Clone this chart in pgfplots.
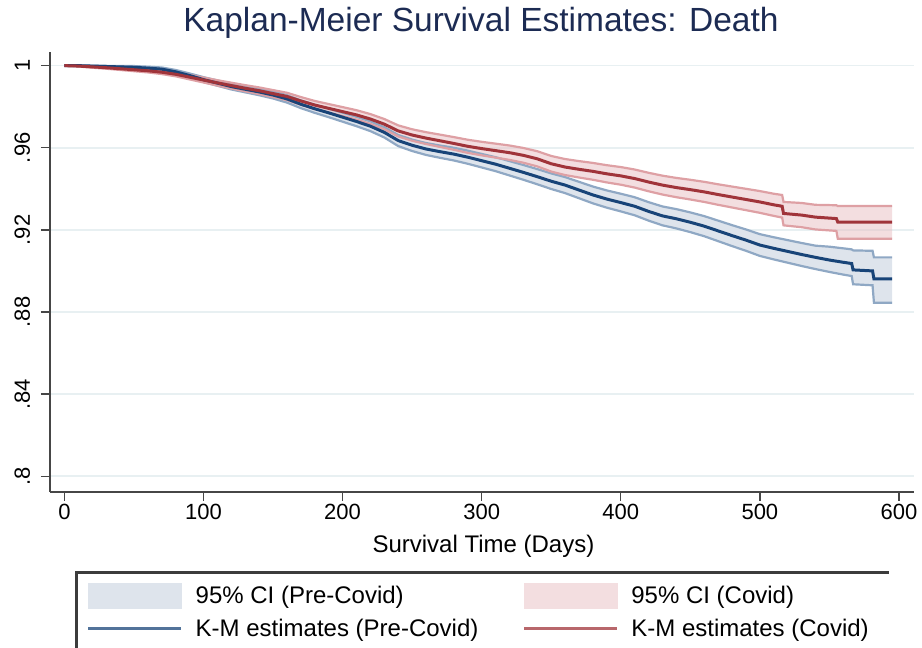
\documentclass[border=0pt]{standalone}
\usepackage{pgfplots}
\pgfplotsset{compat=1.18}
\usepackage{pgfplotstable}
\usepgfplotslibrary{fillbetween}
\usepackage{fontspec}
\setmainfont{Liberation Sans}

\definecolor{kmblue}{RGB}{24,68,120}
\definecolor{kmred}{RGB}{160,52,58}
\definecolor{ciblue}{RGB}{143,168,196}
\definecolor{cired}{RGB}{222,160,164}
\definecolor{fillblue}{RGB}{222,228,236}
\definecolor{fillred}{RGB}{231,189,193}
\definecolor{swred}{RGB}{243,222,224}
\definecolor{titlecol}{RGB}{28,43,83}
\definecolor{axcol}{RGB}{70,70,70}
\definecolor{gridcol}{RGB}{232,240,242}
\definecolor{legbox}{RGB}{60,60,60}

\pgfplotstableread{
d km lo hi
0 1.0000 1.0000 1.0000
10 1.0000 1.0000 1.0000
20 0.9998 0.9996 1.0000
30 0.9996 0.9993 0.9999
40 0.9994 0.9990 0.9998
50 0.9992 0.9986 0.9998
60 0.9988 0.9981 0.9995
70 0.9983 0.9975 0.9991
80 0.9970 0.9961 0.9979
90 0.9952 0.9942 0.9962
100 0.9932 0.9920 0.9944
110 0.9915 0.9902 0.9928
120 0.9898 0.9884 0.9912
130 0.9885 0.9870 0.9900
140 0.9872 0.9856 0.9888
150 0.9857 0.9840 0.9874
160 0.9838 0.9820 0.9856
170 0.9812 0.9793 0.9831
180 0.9790 0.9770 0.9810
190 0.9770 0.9749 0.9791
200 0.9749 0.9727 0.9771
210 0.9728 0.9705 0.9751
220 0.9705 0.9681 0.9729
230 0.9675 0.9650 0.9700
240 0.9635 0.9608 0.9662
250 0.9612 0.9584 0.9640
260 0.9594 0.9565 0.9623
270 0.9581 0.9551 0.9611
280 0.9569 0.9538 0.9600
290 0.9554 0.9522 0.9586
300 0.9537 0.9504 0.9570
310 0.9520 0.9486 0.9554
320 0.9500 0.9465 0.9535
330 0.9480 0.9444 0.9516
340 0.9459 0.9422 0.9496
350 0.9437 0.9399 0.9475
360 0.9418 0.9379 0.9457
370 0.9394 0.9354 0.9434
380 0.9370 0.9329 0.9411
390 0.9350 0.9308 0.9392
400 0.9333 0.9290 0.9376
410 0.9315 0.9271 0.9359
420 0.9290 0.9245 0.9335
430 0.9268 0.9222 0.9314
440 0.9254 0.9207 0.9301
450 0.9237 0.9189 0.9285
460 0.9218 0.9169 0.9267
470 0.9195 0.9145 0.9245
480 0.9172 0.9121 0.9223
490 0.9150 0.9098 0.9202
500 0.9126 0.9073 0.9179
510 0.9110 0.9056 0.9164
520 0.9095 0.9040 0.9150
530 0.9080 0.9024 0.9136
540 0.9066 0.9009 0.9123
550 0.9053 0.8995 0.9118
560 0.9042 0.8982 0.9110
566 0.9036 0.8975 0.9105
567 0.9005 0.8935 0.9100
581 0.9000 0.8930 0.9098
582 0.8961 0.8845 0.9066
595 0.8961 0.8845 0.9066
}\pre

\pgfplotstableread{
d km lo hi
0 1.0000 1.0000 1.0000
10 0.9998 0.9996 1.0000
20 0.9994 0.9990 0.9998
30 0.9990 0.9985 0.9995
40 0.9985 0.9979 0.9991
50 0.9980 0.9973 0.9987
60 0.9975 0.9967 0.9983
70 0.9968 0.9959 0.9977
80 0.9958 0.9948 0.9968
90 0.9944 0.9933 0.9955
100 0.9930 0.9918 0.9942
110 0.9916 0.9903 0.9929
120 0.9903 0.9889 0.9917
130 0.9890 0.9875 0.9905
140 0.9878 0.9862 0.9894
150 0.9864 0.9847 0.9881
160 0.9850 0.9832 0.9868
170 0.9828 0.9809 0.9847
180 0.9808 0.9788 0.9828
190 0.9792 0.9771 0.9813
200 0.9776 0.9754 0.9798
210 0.9760 0.9737 0.9783
220 0.9740 0.9716 0.9764
230 0.9715 0.9690 0.9740
240 0.9682 0.9655 0.9709
250 0.9662 0.9634 0.9690
260 0.9647 0.9618 0.9676
270 0.9634 0.9604 0.9664
280 0.9621 0.9590 0.9652
290 0.9607 0.9575 0.9639
300 0.9596 0.9563 0.9629
310 0.9586 0.9552 0.9620
320 0.9576 0.9541 0.9611
330 0.9563 0.9527 0.9599
340 0.9546 0.9509 0.9583
350 0.9522 0.9484 0.9560
360 0.9506 0.9467 0.9545
370 0.9495 0.9455 0.9535
380 0.9485 0.9444 0.9526
390 0.9473 0.9431 0.9515
400 0.9463 0.9420 0.9506
410 0.9450 0.9406 0.9494
420 0.9433 0.9388 0.9478
430 0.9418 0.9372 0.9464
440 0.9406 0.9359 0.9453
450 0.9396 0.9348 0.9444
460 0.9385 0.9336 0.9434
470 0.9372 0.9322 0.9422
480 0.9360 0.9309 0.9411
490 0.9348 0.9296 0.9400
500 0.9336 0.9283 0.9389
510 0.9322 0.9268 0.9376
516 0.9315 0.9260 0.9370
517 0.9280 0.9222 0.9336
530 0.9272 0.9213 0.9331
540 0.9262 0.9202 0.9322
555 0.9255 0.9195 0.9320
556 0.9238 0.9157 0.9316
595 0.9238 0.9157 0.9316
}\covid

\begin{document}
\begin{tikzpicture}
\begin{axis}[
  at={(50bp,156bp)}, anchor=south west, scale only axis,
  width=864bp, height=440.3bp,
  xmin=-10.35, xmax=610.8, ymin=0.7923, ymax=1.0068,
  axis x line*=bottom, axis y line*=left,
  axis line style={axcol, line width=1.3bp, -},
  xtick={0,100,200,300,400,500,600},
  xticklabels={0,100,200,300,400,500,600},
  ytick={0.8,0.84,0.88,0.92,0.96,1},
  yticklabels={.8,.84,.88,.92,.96,1},
  tick align=outside, major tick length=9bp,
  tick style={axcol, line width=1.3bp},
  ymajorgrids, grid style={gridcol, line width=1.5bp},
  /pgf/number format/assume math mode=true,
  ticklabel style={font=\fontsize{22bp}{26bp}\selectfont},
  yticklabel style={xshift=-11bp, rotate=90, anchor=base},
  xticklabel style={anchor=north},
  title={Kaplan-Meier Survival Estimates: Death},
  title style={at={(axis description cs:0.4988,1)}, anchor=base, yshift=14.7bp,
    font=\fontsize{33.5bp}{40bp}\selectfont, text=titlecol},
  xlabel={Survival Time (Days)},
  xlabel style={at={(axis description cs:0.5017,0)}, anchor=base, yshift=-61bp,
    font=\fontsize{24bp}{28bp}\selectfont},
  legend columns=2,
  legend cell align=left,
  legend style={at={(axis description cs:0.0428,-0.206)}, anchor=north west,
    draw=none, fill=none, inner sep=0pt, outer sep=0pt,
    row sep=11.25bp, column sep=0pt,
    font=\fontsize{24bp}{28bp}\selectfont,
    cells={anchor=west}, nodes={inner sep=0pt}},
]
% pre-covid band
\addplot[draw=none, name path=bhi, forget plot] table[x=d, y=hi] {\pre};
\addplot[draw=none, name path=blo, forget plot] table[x=d, y=lo] {\pre};
\addplot[fill=fillblue, draw=none, forget plot] fill between[of=bhi and blo];
% covid band
\addplot[draw=none, name path=rhi, forget plot] table[x=d, y=hi] {\covid};
\addplot[draw=none, name path=rlo, forget plot] table[x=d, y=lo] {\covid};
\addplot[fill=fillred, fill opacity=0.5, draw=none, forget plot] fill between[of=rhi and rlo];
% CI borders
\addplot[ciblue, line width=2.2bp, forget plot] table[x=d, y=hi] {\pre};
\addplot[ciblue, line width=2.2bp, forget plot] table[x=d, y=lo] {\pre};
\addplot[cired, line width=2.2bp, forget plot] table[x=d, y=hi] {\covid};
\addplot[cired, line width=2.2bp, forget plot] table[x=d, y=lo] {\covid};
% KM lines
\addplot[kmblue, line width=3bp, forget plot] table[x=d, y=km] {\pre};
\addplot[kmred, line width=3bp, forget plot] table[x=d, y=km] {\covid};
% legend
\addlegendimage{legend image code/.code={\fill[fillblue] (0bp,-12.5bp) rectangle (93bp,12.5bp); \path (107bp,0bp);}}
\addlegendentry{\makebox[327bp][l]{95\% CI (Pre-Covid)}}
\addlegendimage{legend image code/.code={\fill[swred] (0bp,-12.5bp) rectangle (93bp,12.5bp); \path (107bp,0bp);}}
\addlegendentry{95\% CI (Covid)}
\addlegendimage{legend image code/.code={\draw[kmblue!75, line width=3bp] (0bp,0bp) -- (93bp,0bp); \path (107bp,0bp);}}
\addlegendentry{\makebox[327bp][l]{K-M estimates (Pre-Covid)}}
\addlegendimage{legend image code/.code={\draw[kmred!75, line width=3bp] (0bp,0bp) -- (93bp,0bp); \path (107bp,0bp);}}
\addlegendentry{K-M estimates (Covid)}
\end{axis}
\draw[legbox, line width=3bp] (76bp,-5bp) -- (76bp,75bp) -- (889bp,75bp);
\pgfresetboundingbox
\useasboundingbox (0bp,0bp) rectangle (922bp,648bp);
\end{tikzpicture}
\end{document}
